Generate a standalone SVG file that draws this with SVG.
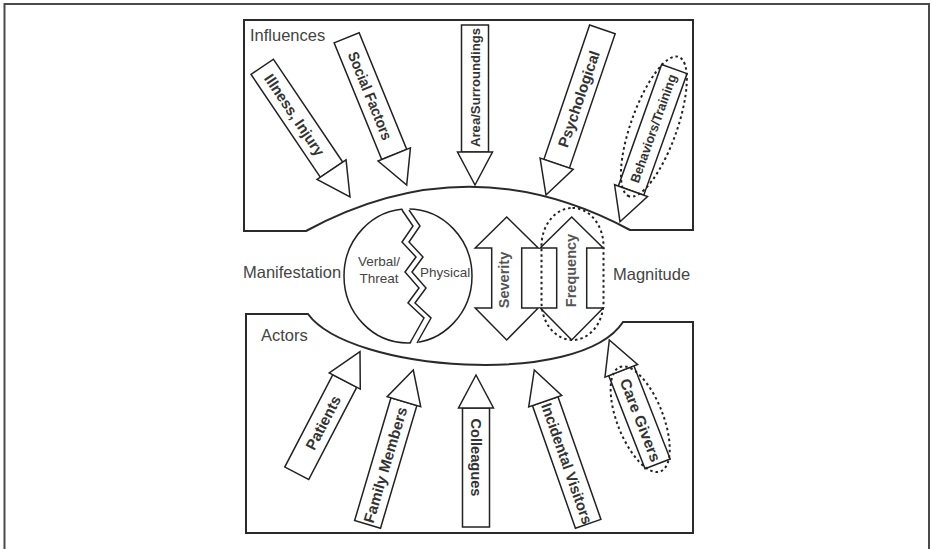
<svg xmlns="http://www.w3.org/2000/svg" width="932" height="549" viewBox="0 0 932 549">
<style>
.frame{fill:none;stroke:#4a4a4a;stroke-width:2}
.box{fill:none;stroke:#2a2a2a;stroke-width:2}
.ar{fill:#fff;stroke:#222;stroke-width:1.5}
.dot{fill:none;stroke:#222;stroke-width:2;stroke-dasharray:2.5 3}
.lbl{font-family:"Liberation Sans",Arial,sans-serif;font-size:16.5px;fill:#444}
.sm{font-family:"Liberation Sans",Arial,sans-serif;font-size:13.5px;fill:#444}
.at{font-family:"Liberation Sans",Arial,sans-serif;font-weight:bold;font-size:15px;fill:#333}
.at13{font-family:"Liberation Sans",Arial,sans-serif;font-weight:bold;font-size:13px;fill:#333}
.mid{font-family:"Liberation Sans",Arial,sans-serif;font-weight:bold;font-size:14.5px;fill:#555}
</style>
<rect width="932" height="549" fill="#fff"/>
<path class="frame" d="M4.5,549 V4 H929 V549"/>

<g id="influences-box">
<path class="box" d="M244,20 H693 V230 H630 Q468,143 306,231 H244 Z"/>
<text class="lbl" x="250" y="41">Influences</text>
</g>
<g id="actors-box">
<path class="box" d="M246,314 H308 C350,372 580,388 623,322 H693 V533 H246 Z"/>
<text class="lbl" x="261" y="341">Actors</text>
</g>

<g id="manifestation-label"><text class="lbl" x="243" y="278">Manifestation</text></g>
<g id="magnitude-label"><text class="lbl" x="613" y="280">Magnitude</text></g>

<g id="manifestation-circle">
<ellipse cx="408" cy="276" rx="64" ry="67" fill="#fff" stroke="#222" stroke-width="1.5"/>
<polygon fill="#fff" stroke="none" points="402,208 413,226 402,242 416,257 405,272 419,288 408,303 424,318 410,345 417,345 431,318 415,303 426,288 412,272 423,257 409,242 420,226 409,208"/>
<polyline fill="none" stroke="#222" stroke-width="1.5" points="402,210 413,226 402,242 416,257 405,272 419,288 408,303 424,318 410,343"/>
<polyline fill="none" stroke="#222" stroke-width="1.5" points="409,210 420,226 409,242 423,257 412,272 426,288 415,303 431,318 417,343"/>
<text class="sm" x="379" y="266" text-anchor="middle">Verbal/</text>
<text class="sm" x="379" y="283" text-anchor="middle">Threat</text>
<text class="sm" x="420" y="277">Physical</text>
</g>

<g id="severity">
<path class="ar" d="M506.7,217 L538.2,248 H521.7 V308 H538.2 L506.7,340 L475.2,308 H491.7 V248 H475.2 Z"/>
<text class="mid" transform="rotate(-90 509 280)" x="509" y="280" text-anchor="middle">Severity</text>
</g>
<g id="frequency">
<path class="ar" d="M571.7,217 L603.2,248 H586.7 V308 H603.2 L571.7,340 L540.2,308 H556.7 V248 H540.2 Z"/>
<text class="mid" transform="rotate(-90 575.5 270.5)" x="575.5" y="270.5" text-anchor="middle">Frequency</text>
<rect class="dot" x="541.5" y="208" width="62" height="132" rx="31" ry="38"/>
</g>

<g id="illness-injury" transform="translate(350,197) rotate(56)">
<rect class="ar" x="-157" y="-13.5" width="124" height="27"/><path class="ar" d="M0,0 L-33,-17.5 L-33,17.5 Z"/>
<text class="at" x="-99" y="5.4" text-anchor="middle" textLength="95" lengthAdjust="spacingAndGlyphs">Illness, Injury</text>
</g>
<g id="social-factors" transform="translate(406.7,185) rotate(67.8)">
<rect class="ar" x="-159" y="-13.5" width="126" height="27"/><path class="ar" d="M0,0 L-33,-17.5 L-33,17.5 Z"/>
<text class="at" x="-96.5" y="5.4" text-anchor="middle" textLength="94" lengthAdjust="spacingAndGlyphs">Social Factors</text>
</g>
<g id="area-surroundings" transform="translate(475,185) rotate(90)">
<rect class="ar" x="-160" y="-13.5" width="127" height="27"/><path class="ar" d="M0,0 L-33,-17.5 L-33,17.5 Z"/>
<text class="at13" transform="rotate(180 -97.5 0)" x="-97.5" y="4.7" text-anchor="middle" textLength="119" lengthAdjust="spacingAndGlyphs">Area/Surroundings</text>
</g>
<g id="psychological" transform="translate(546,195) rotate(108.8)">
<rect class="ar" x="-175" y="-13.5" width="142" height="27"/><path class="ar" d="M0,0 L-33,-17.5 L-33,17.5 Z"/>
<text class="at" transform="rotate(180 -101.4 0)" x="-101.4" y="5.4" text-anchor="middle" textLength="101" lengthAdjust="spacingAndGlyphs">Psychological</text>
</g>
<g id="behaviors-training" transform="translate(620,221.7) rotate(109.6)">
<rect class="ar" x="-162" y="-13.5" width="129" height="27"/><path class="ar" d="M0,0 L-33,-17.5 L-33,17.5 Z"/>
<text class="at13" transform="rotate(180 -99 0)" x="-99" y="4.7" text-anchor="middle" textLength="114" lengthAdjust="spacingAndGlyphs">Behaviors/Training</text>
<ellipse class="dot" cx="-101" cy="0" rx="74" ry="23"/>
</g>

<g id="patients" transform="translate(360,351.7) rotate(-62.5)">
<rect class="ar" x="-137" y="-13.5" width="104" height="27"/><path class="ar" d="M0,0 L-33,-17.5 L-33,17.5 Z"/>
<text class="at" x="-80" y="5.4" text-anchor="middle" textLength="59" lengthAdjust="spacingAndGlyphs">Patients</text>
</g>
<g id="family-members" transform="translate(413.3,370) rotate(-73.5)">
<rect class="ar" x="-161" y="-13.5" width="128" height="27"/><path class="ar" d="M0,0 L-33,-17.5 L-33,17.5 Z"/>
<text class="at" x="-99" y="5.4" text-anchor="middle" textLength="120" lengthAdjust="spacingAndGlyphs">Family Members</text>
</g>
<g id="colleagues" transform="translate(476,375) rotate(-90)">
<rect class="ar" x="-152" y="-13.5" width="119" height="27"/><path class="ar" d="M0,0 L-33,-17.5 L-33,17.5 Z"/>
<text class="at" transform="rotate(180 -82.5 0)" x="-82.5" y="5.4" text-anchor="middle" textLength="78" lengthAdjust="spacingAndGlyphs">Colleagues</text>
</g>
<g id="incidental-visitors" transform="translate(534.3,370) rotate(-109.3)">
<rect class="ar" x="-163" y="-13.5" width="130" height="27"/><path class="ar" d="M0,0 L-33,-17.5 L-33,17.5 Z"/>
<text class="at" transform="rotate(180 -99 0)" x="-99" y="5.4" text-anchor="middle" textLength="127" lengthAdjust="spacingAndGlyphs">Incidental Visitors</text>
</g>
<g id="care-givers" transform="translate(609.3,340) rotate(-111.3)">
<rect class="ar" x="-133" y="-13.5" width="100" height="27"/><path class="ar" d="M0,0 L-33,-17.5 L-33,17.5 Z"/>
<text class="at" transform="rotate(180 -86 0)" x="-86" y="5.4" text-anchor="middle" textLength="88" lengthAdjust="spacingAndGlyphs">Care Givers</text>
<ellipse class="dot" cx="-85" cy="0" rx="56" ry="23"/>
</g>
<g id="connectors"/>
</svg>
